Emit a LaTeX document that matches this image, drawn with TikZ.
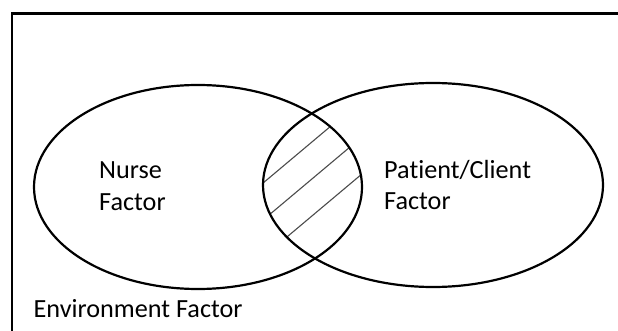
\documentclass[tikz,border=0pt]{standalone}
\usepackage{fontspec}
\setmainfont[Ligatures=NoCommon]{Carlito}
\usetikzlibrary{shapes.geometric}

\begin{document}
\begin{tikzpicture}[
    x=1pt,y=-1pt,
    frameline/.style={line width=2.2pt},
    factorset/.style={draw,ellipse,line width=2.2pt,inner sep=0pt,minimum height=204pt},
    hatch/.style={draw=black!70,line width=1.1pt},
    ftext/.style={font=\fontsize{26.2}{32}\selectfont,align=left,anchor=west,inner sep=0pt}
]
  \clip (0,0) rectangle (618,331);
  \fill[white] (0,0) rectangle (618,331);

  % outer frame (right and bottom sides run off the page)
  \draw[frameline] (12,13.5) rectangle (680,400);

  \coordinate (nc) at (198,187);
  \coordinate (pc) at (433,185);

  % hatching in the overlap of the two sets
  \begin{scope}
    \clip (nc) ellipse [x radius=164pt, y radius=102pt];
    \clip (pc) ellipse [x radius=170pt, y radius=102pt];
    \foreach \c in {367,404,441,478}
      \draw[hatch] (240,{\c-201.6}) -- (390,{\c-327.6});
  \end{scope}

  \node[factorset,minimum width=328pt] (nurse) at (nc) {};
  \node[factorset,minimum width=340pt] (client) at (pc) {};

  \node[ftext] (nursetxt) at (99,186) {Nurse\\Factor};
  \node[ftext] (clienttxt) at (384,185) {Patient/Client\\Factor};
  \node[ftext] (envtxt) at (33.5,309) {Environment Factor};
\end{tikzpicture}
\end{document}
